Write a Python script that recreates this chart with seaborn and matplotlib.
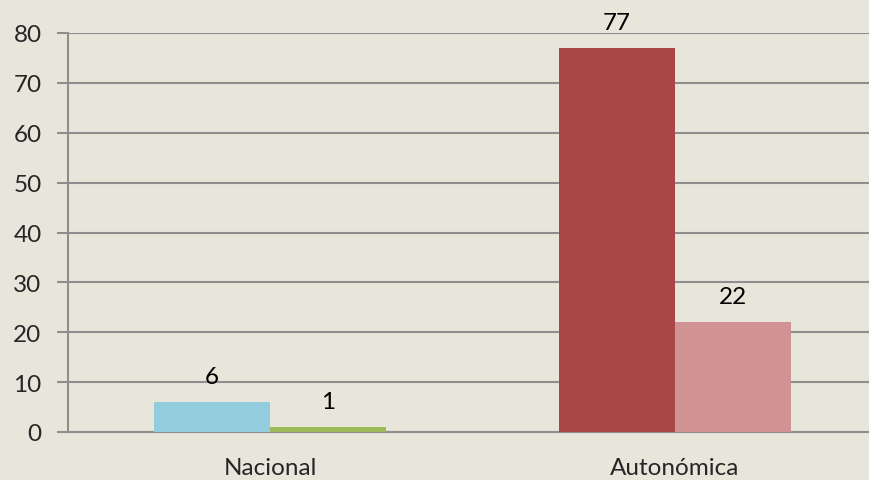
import pandas as pd
import numpy as np
import matplotlib.pyplot as plt
import seaborn as sns

# datos del gráfico
categorias = ['Nacional', 'Autonómica']
serie = ['a', 'b']
valores = [[6, 1], [77, 22]]
colores = [['#93CDDD', '#9BBB59'], ['#A94646', '#D09292']]
yticks = list(range(0, 90, 10))

fondo = '#E8E6DA'
gris = '#8E8E8E'

df = pd.DataFrame({
    'categoria': np.repeat(categorias, len(serie)),
    'serie': serie * len(categorias),
    'valor': np.ravel(valores),
})

sns.set_theme(style='white')
plt.rcParams['font.family'] = ['Lato', 'DejaVu Sans']

fig = plt.figure(figsize=(8.69, 4.81), dpi=100, facecolor=fondo)
# el eje se sale un poco por la derecha, como en el original
ax = fig.add_axes([68 / 869, 1 - 433 / 481, (877 - 68) / 869, (433 - 34) / 481])
ax.set_facecolor(fondo)

sns.barplot(data=df, x='categoria', y='valor', hue='serie', order=categorias,
            hue_order=serie, width=0.574, dodge=True, legend=False, ax=ax,
            saturation=1, zorder=3)

# colores por barra
for j, cont in enumerate(ax.containers):
    for i, p in enumerate(cont.patches):
        p.set_facecolor(colores[i][j])
        p.set_edgecolor('none')
    ax.bar_label(cont, fontsize=17.5, padding=11, color='black')

ax.set_xlim(-0.5, 1.5)
ax.set_ylim(0, 80)
ax.set_yticks(yticks)
ax.yaxis.grid(True, color=gris, linewidth=1.5, zorder=0)
ax.set_axisbelow(True)

ax.set_xticks([-0.5, 0.5, 1.5])
ax.set_xticklabels([])
ax.set_xticks([0, 1], minor=True)
ax.set_xticklabels(categorias, minor=True)
ax.tick_params(axis='x', which='major', length=8, width=1.2, color=gris, direction='out')
ax.tick_params(axis='x', which='minor', length=0, pad=18, labelsize=17.5)
ax.tick_params(axis='y', length=8, width=1.5, color=gris, pad=11, labelsize=17.5, left=True)

for s in ['top', 'right']:
    ax.spines[s].set_visible(False)
ax.spines['left'].set_color(gris)
ax.spines['left'].set_linewidth(1.5)
ax.spines['bottom'].set_color(gris)
ax.spines['bottom'].set_linewidth(1.5)

ax.set_xlabel('')
ax.set_ylabel('')

fig.savefig('out.png', dpi=100, facecolor=fondo)
